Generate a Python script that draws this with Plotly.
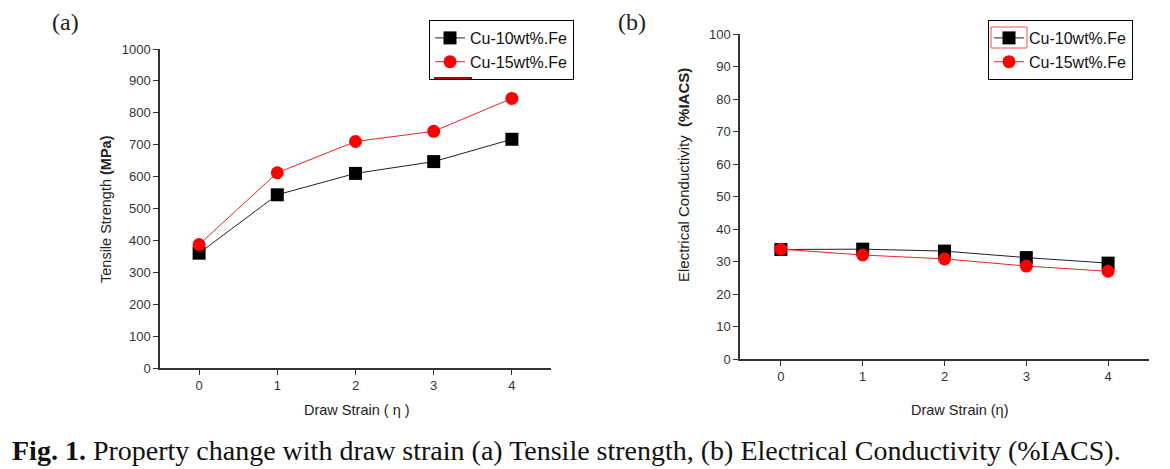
import plotly.graph_objects as go

strain = [0, 1, 2, 3, 4]
strain_ticks = ["0", "1", "2", "3", "4"]
ts_cu10 = [360, 543, 610, 647, 717]
ts_cu15 = [387, 612, 710, 742, 845]
ec_cu10 = [33.7, 33.8, 33.2, 31.2, 29.5]
ec_cu15 = [33.8, 32.0, 30.8, 28.6, 27.0]
names = ["Cu-10wt%.Fe", "Cu-15wt%.Fe"]

W, H = 1170, 469
def px(x): return x / W
def py(y): return (H - y) / H

fig = go.Figure()
tick_font = dict(family="Liberation Sans, Arial", size=13, color="#333")

def add_series(x, y, name, sym, color, lcolor, xa, ya, leg):
    fig.add_trace(go.Scatter(x=x, y=y, name=name, mode="lines+markers",
                             line=dict(color=lcolor, width=1),
                             marker=dict(symbol=sym, size=13, color=color),
                             xaxis=xa, yaxis=ya, legend=leg))

add_series(strain, ts_cu10, names[0], "square", "black", "#222", "x", "y", "legend")
add_series(strain, ts_cu15, names[1], "circle", "#ff0000", "#e8262a", "x", "y", "legend")
add_series(strain, ec_cu10, names[0], "square", "black", "#222", "x2", "y2", "legend2")
add_series(strain, ec_cu15, names[1], "circle", "#ff0000", "#e8262a", "x2", "y2", "legend2")

axis_common = dict(showline=True, linecolor="#333", linewidth=1.5, ticks="outside",
                   ticklen=5, tickcolor="#333", tickfont=tick_font, showgrid=False,
                   zeroline=False, automargin=False)

leg_font = dict(family="Liberation Sans, Arial", size=16, color="#111")
fig.update_layout(
    width=W, height=H, autosize=False,
    margin=dict(l=0, r=0, t=0, b=0, pad=0),
    paper_bgcolor="white", plot_bgcolor="white",
    showlegend=True,
    xaxis=dict(domain=[px(160), px(551)], range=[-0.5, 4.5], tickvals=strain,
               ticktext=strain_ticks, anchor="y", **axis_common),
    yaxis=dict(domain=[py(368), py(49)], range=[0, 1000], dtick=100, anchor="x",
               **axis_common),
    xaxis2=dict(domain=[px(740), px(1149)], range=[-0.5, 4.5], tickvals=strain,
                ticktext=strain_ticks, anchor="y2", **axis_common),
    yaxis2=dict(domain=[py(359), py(34)], range=[0, 100], dtick=10, anchor="x2",
                **axis_common),
    legend=dict(x=px(429), y=py(20), xanchor="left", yanchor="top",
                bordercolor="black", borderwidth=1, bgcolor="rgba(0,0,0,0)",
                font=leg_font, itemwidth=30, tracegroupgap=0),
    legend2=dict(x=px(988), y=py(20), xanchor="left", yanchor="top",
                 bordercolor="black", borderwidth=1, bgcolor="rgba(0,0,0,0)",
                 font=leg_font, itemwidth=30, tracegroupgap=0),
)

# small artifacts seen in the original legends
fig.add_shape(type="rect", xref="paper", yref="paper", x0=px(991), x1=px(1027),
              y0=py(48), y1=py(27), line=dict(color="#f05050", width=1))
fig.add_shape(type="line", xref="paper", yref="paper", x0=px(434), x1=px(472),
              y0=py(78), y1=py(78), line=dict(color="#b00000", width=2))

title_font = dict(family="Liberation Sans, Arial", size=14.5, color="#222")
ann = [
    dict(x=px(65), y=py(22), text="(a)", font=dict(family="Liberation Serif", size=24, color="#222")),
    dict(x=px(632), y=py(22), text="(b)", font=dict(family="Liberation Serif", size=24, color="#222")),
    dict(x=px(106), y=py(209), text="Tensile Strength <b>(MPa)</b>", textangle=-90, font=title_font),
    dict(x=px(684), y=py(175), text="Electrical Conductivity  <b>(%IACS)</b>", textangle=-90,
         font=dict(family="Liberation Sans, Arial", size=15, color="#222")),
    dict(x=px(357), y=py(410), text="Draw Strain ( η )", font=title_font),
    dict(x=px(960), y=py(410), text="Draw Strain (η)", font=title_font),
    dict(x=px(10), y=py(450), xanchor="left",
         text="<b>Fig. 1.</b> Property change with draw strain (a) Tensile strength, (b) Electrical Conductivity (%IACS).",
         font=dict(family="Liberation Serif", size=28, color="#111")),
]
for a in ann:
    a.setdefault("xanchor", "center")
    a.update(xref="paper", yref="paper", yanchor="middle", showarrow=False)
    fig.add_annotation(**a)

fig.write_html("out.html", config={"responsive": False, "displayModeBar": False},
               post_script="document.body.style.margin='0';document.body.style.overflow='hidden';")
